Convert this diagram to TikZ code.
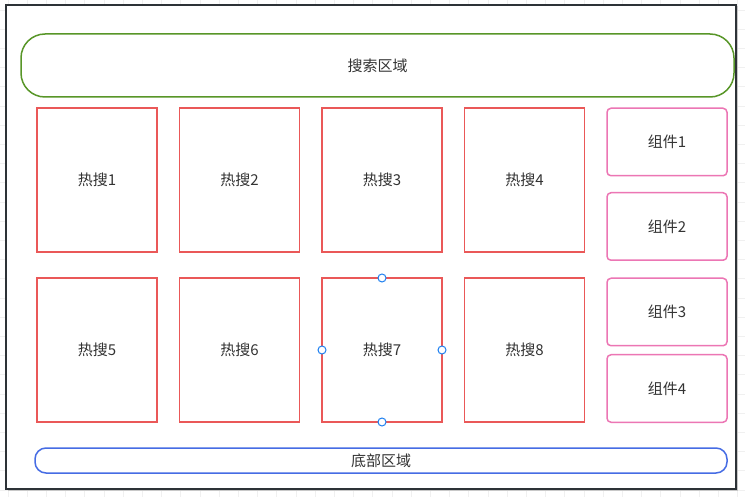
\documentclass[tikz,border=0pt]{standalone}
\usepackage{fontspec}
\newfontfamily\cjk{Noto Sans CJK SC}
\usetikzlibrary{positioning,shadows}
\definecolor{ink}{RGB}{51,51,51}
\definecolor{frame}{RGB}{45,50,55}
\definecolor{gridline}{RGB}{240,240,240}
\definecolor{leaf}{RGB}{88,150,40}
\definecolor{hot}{RGB}{234,88,88}
\definecolor{rose}{RGB}{236,118,180}
\definecolor{sea}{RGB}{70,108,228}
\definecolor{pin}{RGB}{30,128,240}
\tikzset{
  every picture/.style={x=1pt, y=-1pt, line width=1.5pt},
  every node/.style={font=\cjk\fontsize{15}{18}\selectfont, text=ink},
  node distance=26pt and 22.5pt,
  area/.style={draw, fill=white, inner sep=0pt, outer sep=0pt},
  search/.style={area, draw=leaf, minimum width=713pt, minimum height=63pt, rounded corners=24pt},
  hotbox/.style={area, draw=hot, minimum width=120pt, minimum height=144pt},
  part/.style={area, draw=rose, minimum width=120pt, minimum height=67.5pt, rounded corners=4pt},
  footer/.style={area, draw=sea, minimum width=692pt, minimum height=25pt, rounded corners=11pt},
  handle/.style={circle, draw=pin, fill=white, line width=1pt, minimum size=8pt, inner sep=0pt},
}

\begin{document}
\begin{tikzpicture}
  \useasboundingbox (0,0) rectangle (745,497);
  % background grid
  \foreach \k in {0,...,38} {
    \draw[gridline, line width=0.8pt] (8+19.2*\k,0) -- (8+19.2*\k,497);
  }
  \foreach \k in {0,...,25} {
    \draw[gridline, line width=0.8pt] (0,10+19.2*\k) -- (745,10+19.2*\k);
  }
  % page
  \draw[frame, fill=white, drop shadow={shadow xshift=1.5pt, shadow yshift=-1.5pt, opacity=0.35}]
    (6,5) rectangle (736,489);
  % search
  \node[search] (search) at (377.5,65.5) {搜索区域};
  % hot list
  \node[hotbox] (hot1) at (97,180) {热搜1};
  \node[hotbox, right=of hot1] (hot2) {热搜2};
  \node[hotbox, right=of hot2] (hot3) {热搜3};
  \node[hotbox, right=of hot3] (hot4) {热搜4};
  \node[hotbox, below=of hot1] (hot5) {热搜5};
  \node[hotbox, right=of hot5] (hot6) {热搜6};
  \node[hotbox, right=of hot6] (hot7) {热搜7};
  \node[hotbox, right=of hot7] (hot8) {热搜8};
  % widgets
  \node[part] (part1) at (667,142) {组件1};
  \node[part, below=17pt of part1] (part2) {组件2};
  \node[part, below=18pt of part2] (part3) {组件3};
  \node[part, below=9pt of part3] (part4) {组件4};
  % footer
  \node[footer] (foot) at (381,460.5) {底部区域};
  % selection handles
  \node[handle] (h7n) at (hot7.north) {};
  \node[handle] (h7s) at (hot7.south) {};
  \node[handle] (h7w) at (hot7.west) {};
  \node[handle] (h7e) at (hot7.east) {};
\end{tikzpicture}
\end{document}
